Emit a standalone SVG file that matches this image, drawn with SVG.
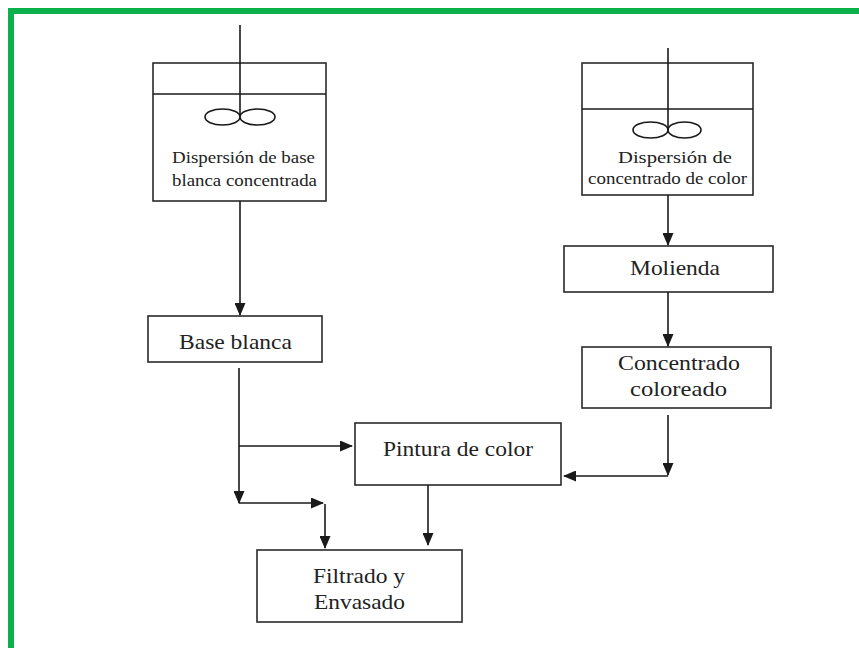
<svg xmlns="http://www.w3.org/2000/svg" width="859" height="648" viewBox="0 0 859 648">
  <style>
    .box { fill: #ffffff; stroke: #2a2a2a; stroke-width: 1.6; }
    .ln { fill: none; stroke: #1a1a1a; stroke-width: 1.6; }
    .conn { fill: none; stroke: #1a1a1a; stroke-width: 1.6; }
    text { font-family: "Liberation Serif", "DejaVu Serif", serif; fill: #222; }
    .tk { font-size: 17px; }
    .bx { font-size: 21px; }
  </style>
  <defs>
    <marker id="arrow" markerUnits="userSpaceOnUse" markerWidth="13" markerHeight="11" refX="12" refY="5.5" orient="auto">
      <path d="M0,0 L13,5.5 L0,11 Z" fill="#1a1a1a"/>
    </marker>
  </defs>

  <rect width="859" height="648" fill="#ffffff"/>
  <!-- green frame -->
  <rect x="8" y="8" width="851" height="6" fill="#0db14b"/>
  <rect x="8" y="8" width="6" height="640" fill="#0db14b"/>

  <!-- white base dispersion tank -->
  <g id="tank-white">
    <rect class="box" x="153" y="63" width="173" height="138"/>
    <line class="ln" x1="153" y1="94" x2="326" y2="94"/>
    <line class="ln" x1="240" y1="25" x2="240" y2="117"/>
    <ellipse class="ln" cx="222.5" cy="117" rx="17.5" ry="8"/>
    <ellipse class="ln" cx="257.5" cy="117" rx="17.5" ry="8"/>
    <text class="tk" x="172" y="163" textLength="143" lengthAdjust="spacingAndGlyphs">Dispersión de base</text>
    <text class="tk" x="172" y="186" textLength="145" lengthAdjust="spacingAndGlyphs">blanca concentrada</text>
  </g>

  <!-- colour concentrate dispersion tank -->
  <g id="tank-color">
    <rect class="box" x="582" y="63" width="171" height="132"/>
    <line class="ln" x1="582" y1="109" x2="753" y2="109"/>
    <line class="ln" x1="668" y1="48" x2="668" y2="130"/>
    <ellipse class="ln" cx="650.5" cy="130" rx="17.5" ry="8"/>
    <ellipse class="ln" cx="684.5" cy="130" rx="16.5" ry="8"/>
    <text class="tk" x="618" y="163" textLength="114" lengthAdjust="spacingAndGlyphs">Dispersión de</text>
    <text class="tk" x="588" y="184" textLength="159" lengthAdjust="spacingAndGlyphs">concentrado de color</text>
  </g>

  <g id="base-blanca">
    <rect class="box" x="148" y="316" width="174" height="46"/>
    <text class="bx" x="179" y="349" textLength="113" lengthAdjust="spacingAndGlyphs">Base blanca</text>
  </g>

  <g id="molienda">
    <rect class="box" x="564" y="246" width="209" height="46"/>
    <text class="bx" x="630" y="275" textLength="90" lengthAdjust="spacingAndGlyphs">Molienda</text>
  </g>

  <g id="concentrado">
    <rect class="box" x="582" y="347" width="189" height="61"/>
    <text class="bx" x="618" y="370" textLength="122" lengthAdjust="spacingAndGlyphs">Concentrado</text>
    <text class="bx" x="630" y="396" textLength="97" lengthAdjust="spacingAndGlyphs">coloreado</text>
  </g>

  <g id="pintura">
    <rect class="box" x="355" y="423" width="206" height="62"/>
    <text class="bx" x="383" y="456" textLength="150" lengthAdjust="spacingAndGlyphs">Pintura de color</text>
  </g>

  <g id="filtrado">
    <rect class="box" x="257" y="550" width="205" height="72"/>
    <text class="bx" x="313" y="583" textLength="92" lengthAdjust="spacingAndGlyphs">Filtrado y</text>
    <text class="bx" x="314" y="609" textLength="91" lengthAdjust="spacingAndGlyphs">Envasado</text>
  </g>

  <g id="connectors">
    <path class="conn" d="M240,201 V315" marker-end="url(#arrow)"/>
    <path class="conn" d="M239,368 V503" marker-end="url(#arrow)"/>
    <path class="conn" d="M239,446 H352" marker-end="url(#arrow)"/>
    <path class="conn" d="M239,503 H323" marker-end="url(#arrow)"/>
    <path class="conn" d="M325,504 V548" marker-end="url(#arrow)"/>
    <path class="conn" d="M428,485 V545" marker-end="url(#arrow)"/>
    <path class="conn" d="M668,195 V245" marker-end="url(#arrow)"/>
    <path class="conn" d="M668,292 V346" marker-end="url(#arrow)"/>
    <path class="conn" d="M668,415 V475" marker-end="url(#arrow)"/>
    <path class="conn" d="M668,476 H564" marker-end="url(#arrow)"/>
  </g>
</svg>
